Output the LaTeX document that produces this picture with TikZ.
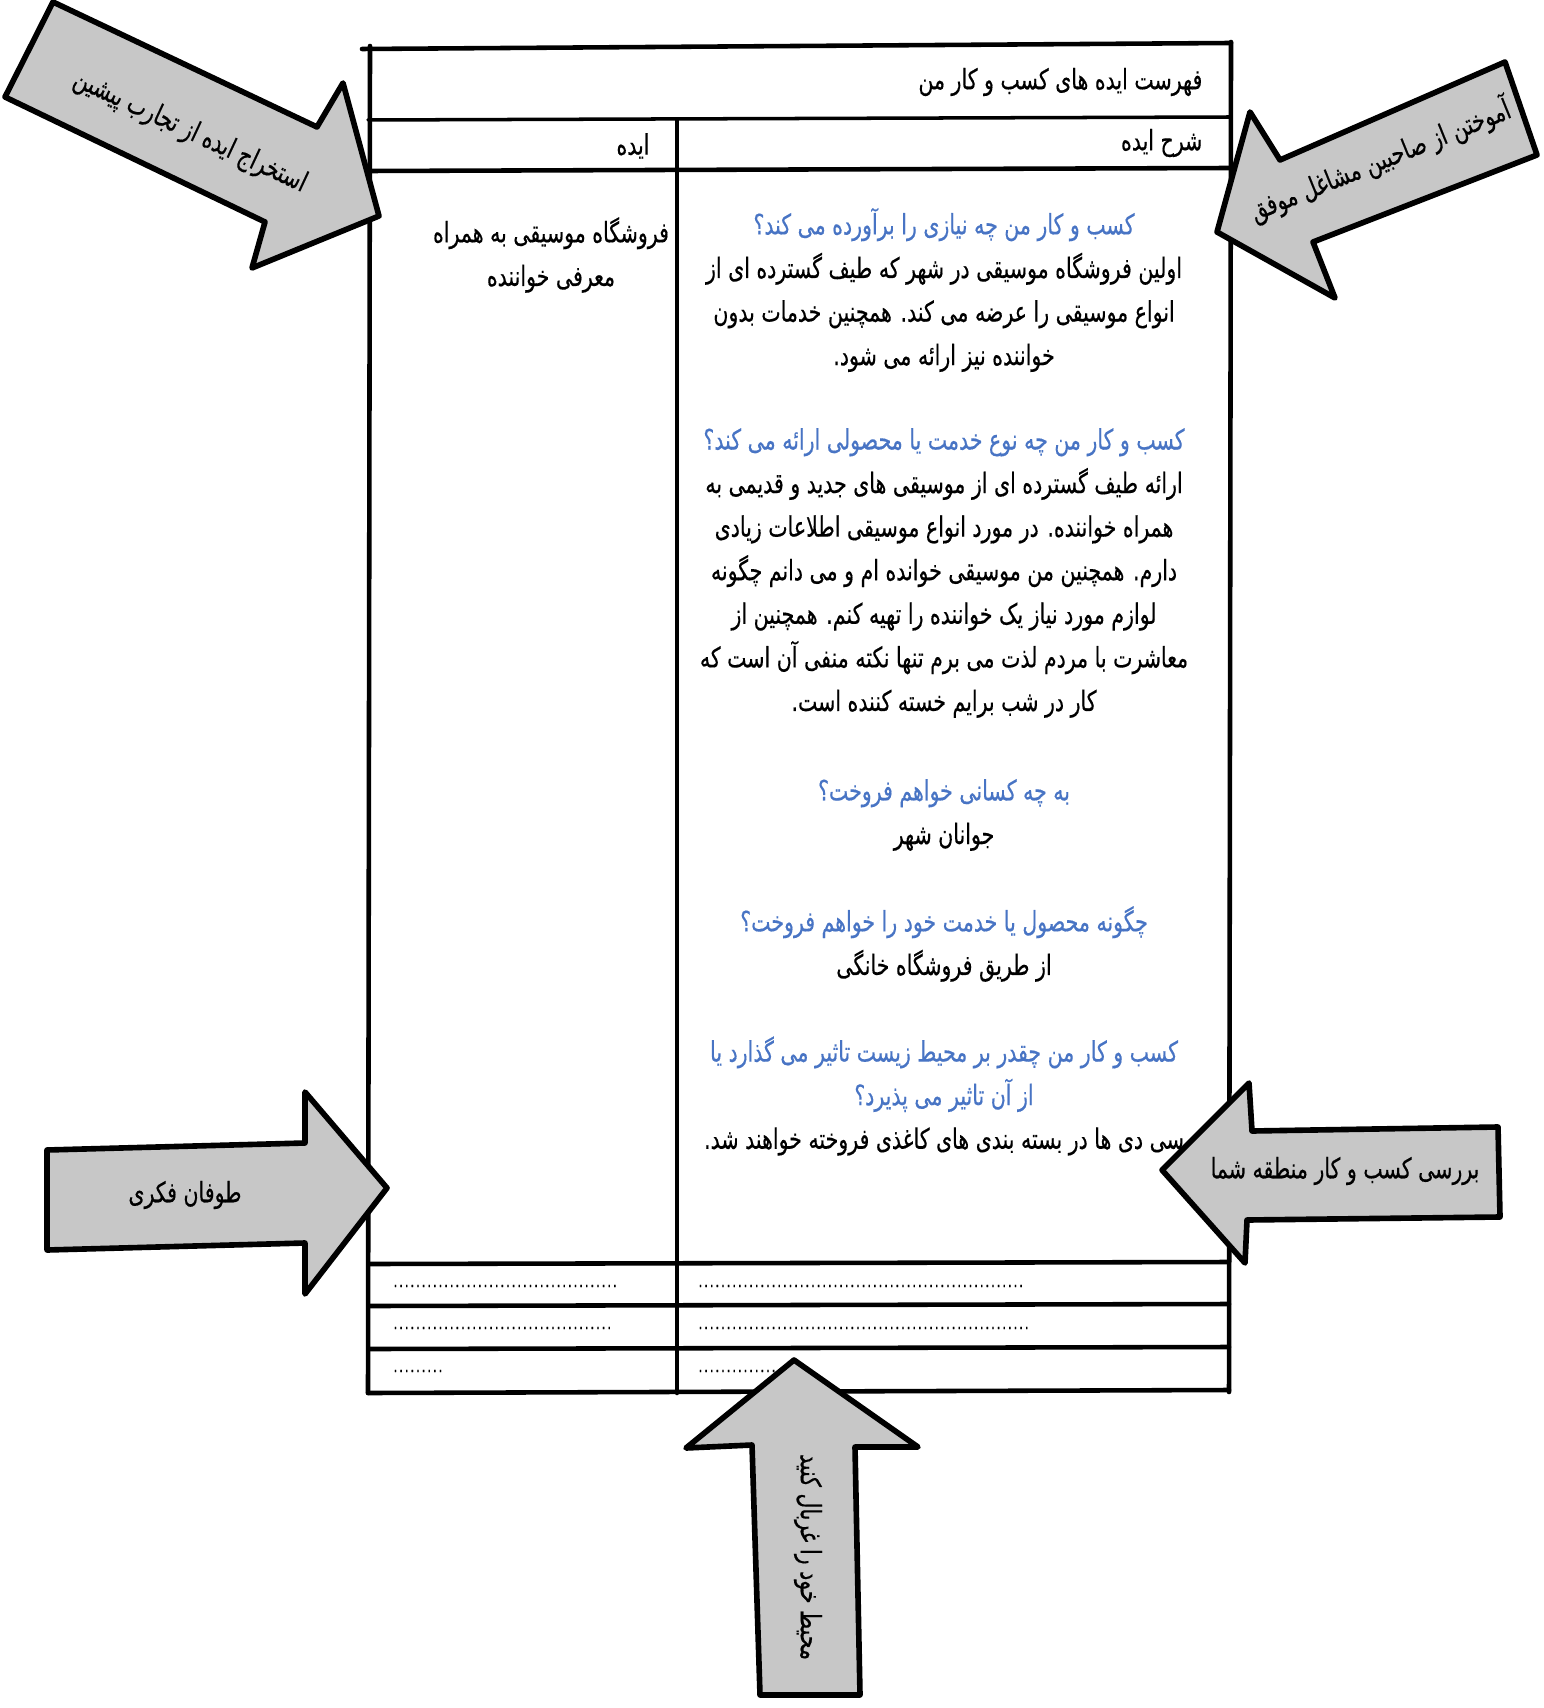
\documentclass[tikz,border=0pt]{standalone}
\usepackage{fontspec}
\newfontfamily\fafont[Script=Arabic,FakeStretch=0.73,FakeBold=0.4]{DejaVu Sans}
\TeXXeTstate=1
\definecolor{qBlue}{RGB}{72,116,196}
\colorlet{arrowGray}{black!22}
\newcommand{\rl}[1]{\beginR#1\endR}
\newcommand{\dotrow}[1]{\hbox to #1{\fontsize{5}{6}\selectfont\leaders\hbox to 1.6pt{\hss.\hss}\hfill}}

\begin{document}
\begin{tikzpicture}[x=0.1mm, y=-0.1mm,
    every node/.style={font=\fafont\fontsize{8}{12.4}\selectfont, inner sep=0pt},
    rule/.style={line width=1.3pt, line cap=round},
    thinrule/.style={line width=1pt, line cap=round},
    ideaArrow/.style={draw, fill=arrowGray, line width=1.6pt, line join=round},
    textBlock/.style={align=center},
    arrowText/.style={font=\fafont\fontsize{8}{11}\selectfont}]
		\useasboundingbox (0,0) rectangle (1543,1708);
		%%%%%%%%%%%%%
		\draw[rule] (362,49) -- (1231,43);
		\draw[thinrule] (368,120) -- (1231,117);
		\draw[rule] (370,171) -- (1231,168);
		\draw[rule] (370,46) -- (368,1393);
		\draw[rule] (1231,42) -- (1229,1392);
		\draw[rule] (677,120) -- (677,1393);
		\draw[rule] (370,1264) -- (1229,1262);
		\draw[rule] (370,1306) -- (1229,1304);
		\draw[rule] (370,1349) -- (1229,1347);
		\draw[rule] (368,1393) -- (1229,1390);
		%%%%%%%%%%%%%
		\node[anchor=east] (title) at (1203,82) {\rl{فهرست ایده های کسب و کار من}};
		\node[anchor=east] (descHead) at (1203,143) {\rl{شرح ایده}};
		\node (ideaHead) at (633,146) {\rl{ایده}};
		\node[textBlock] (idea) at (551,255) {\rl{فروشگاه موسیقی به همراه}\\\rl{معرفی خواننده}};
		%%%%%%%%%%%%%
		\node[textBlock] (need) at (944,290) {\textcolor{qBlue}{\rl{کسب و کار من چه نیازی را برآورده می کند؟}}\\
			\rl{اولین فروشگاه موسیقی در شهر که طیف گسترده ای از}\\
			\rl{انواع موسیقی را عرضه می کند. همچنین خدمات بدون}\\
			\rl{خواننده نیز ارائه می شود.}};
		\node[textBlock] (offer) at (944,573) {\textcolor{qBlue}{\rl{کسب و کار من چه نوع خدمت یا محصولی ارائه می کند؟}}\\
			\rl{ارائه طیف گسترده ای از موسیقی های جدید و قدیمی به}\\
			\rl{همراه خواننده. در مورد انواع موسیقی اطلاعات زیادی}\\
			\rl{دارم. همچنین من موسیقی خوانده ام و می دانم چگونه}\\
			\rl{لوازم مورد نیاز یک خواننده را تهیه کنم. همچنین از}\\
			\rl{معاشرت با مردم لذت می برم تنها نکته منفی آن است که}\\
			\rl{کار در شب برایم خسته کننده است.}};
		\node[textBlock] (buyers) at (944,815) {\textcolor{qBlue}{\rl{به چه کسانی خواهم فروخت؟}}\\
			\rl{جوانان شهر}};
		\node[textBlock] (sales) at (944,944) {\textcolor{qBlue}{\rl{چگونه محصول یا خدمت خود را خواهم فروخت؟}}\\
			\rl{از طریق فروشگاه خانگی}};
		\node[textBlock] (nature) at (944,1096) {\textcolor{qBlue}{\rl{کسب و کار من چقدر بر  محیط زیست تاثیر می گذارد یا}}\\
			\textcolor{qBlue}{\rl{از آن تاثیر می پذیرد؟}}\\
			\rl{سی دی ها در بسته بندی های کاغذی فروخته خواهند شد.}};
		%%%%%%%%%%%%%
		\node[anchor=base west] (dotsL1) at (392,1287) {\dotrow{22.9mm}};
		\node[anchor=base west] (dotsR1) at (697,1287) {\dotrow{32.7mm}};
		\node[anchor=base west] (dotsL2) at (392,1329) {\dotrow{22.3mm}};
		\node[anchor=base west] (dotsR2) at (697,1329) {\dotrow{33.2mm}};
		\node[anchor=base west] (dotsL3) at (392,1372) {\dotrow{5.2mm}};
		\node[anchor=base west] (dotsR3) at (697,1372) {\dotrow{9mm}};
		%%%%%%%%%%%%%
		\draw[ideaArrow] (53,2) -- (317,127) -- (343,83) -- (379,216) -- (252,268) -- (265,222) -- (5,97) -- cycle;
		\draw[ideaArrow] (1217,232) -- (1250,112) -- (1280,160) -- (1505,62) -- (1537,155) -- (1313,242) -- (1335,298) -- cycle;
		\draw[ideaArrow] (47,1150) -- (305,1143) -- (305,1092) -- (387,1188) -- (305,1294) -- (305,1243) -- (47,1250) -- cycle;
		\draw[ideaArrow] (1162,1170) -- (1249,1083) -- (1252,1131) -- (1498,1127) -- (1500,1217) -- (1247,1220) -- (1245,1263) -- cycle;
		\draw[ideaArrow] (794,1360) -- (918,1447) -- (855,1447) -- (860,1695) -- (760,1695) -- (752,1445) -- (686,1448) -- cycle;
		%%%%%%%%%%%%%
		\node[arrowText, rotate=-25] (past) at (190,132) {\rl{استخراج ایده از تجارب پیشین}};
		\node[arrowText, rotate=22] (mentors) at (1380,160) {\rl{آموختن از صاحبین مشاغل موفق}};
		\node[arrowText] (storm) at (185,1195) {\rl{طوفان فکری}};
		\node[arrowText] (local) at (1345,1171) {\rl{بررسی کسب و کار منطقه شما}};
		\node[arrowText, rotate=-90] (screen) at (808,1557) {\rl{محیط خود را غربال کنید}};
\end{tikzpicture}
\end{document}
